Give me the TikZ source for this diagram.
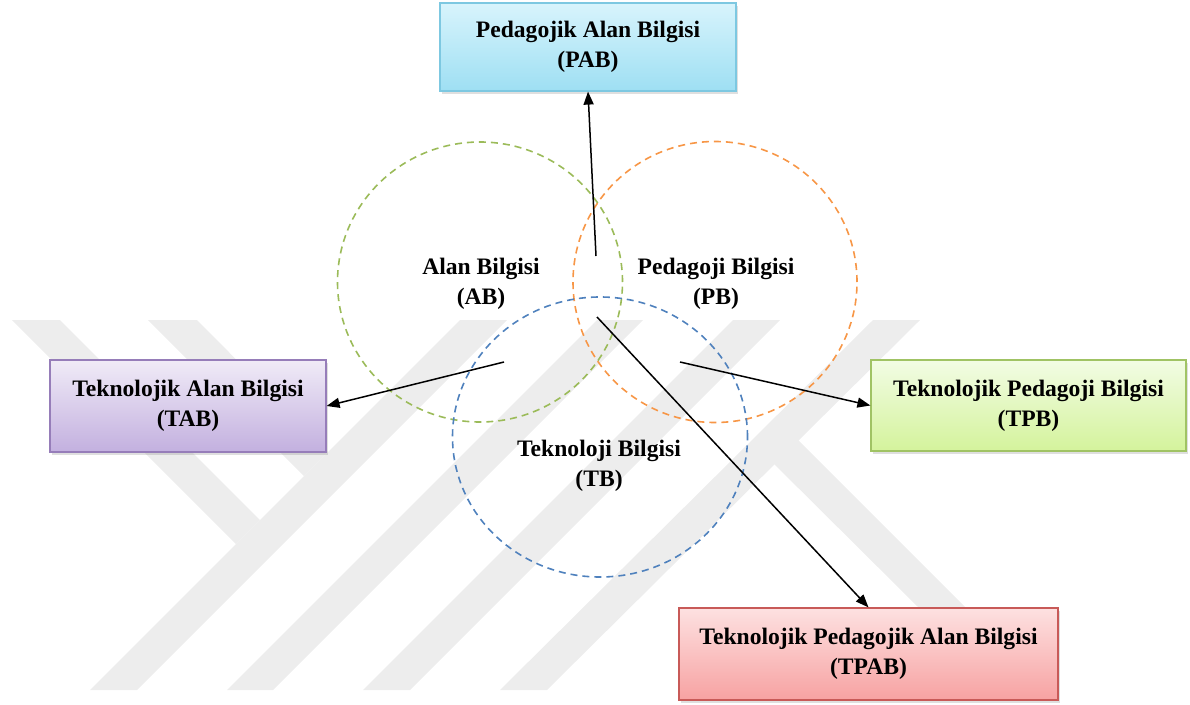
\documentclass[tikz,border=0pt]{standalone}
\usepackage{fontspec}
\setmainfont{Liberation Serif}
\usetikzlibrary{arrows.meta,shadows,shapes.geometric}
\definecolor{wm}{RGB}{237,237,237}
\definecolor{cgreen}{RGB}{155,187,89}
\definecolor{corange}{RGB}{247,150,70}
\definecolor{cblue}{RGB}{79,129,189}
\tikzset{
  lbl/.style={font=\fontsize{23.6}{30}\selectfont\bfseries, align=center, inner sep=0pt},
  box/.style={lbl, draw, line width=1.2pt, drop shadow={shadow xshift=2pt, shadow yshift=-3pt, opacity=0.25}},
  ring/.style={ellipse, draw, dashed, line width=1.6pt, dash pattern=on 7pt off 5pt, inner sep=0pt},
  arr/.style={line width=1.5pt, -{Triangle[length=13pt,width=10pt]}},
  band/.style={fill=wm, draw=none}
}
\begin{document}
\begin{tikzpicture}[x=1pt,y=-1pt]
\useasboundingbox (0,0) rectangle (1190,704);
% watermark
\fill[band] (90,690) -- (137,690) -- (507,320) -- (460,320) -- cycle;
\fill[band] (227,690) -- (273,690) -- (643,320) -- (597,320) -- cycle;
\fill[band] (363,690) -- (410,690) -- (780,320) -- (733,320) -- cycle;
\fill[band] (500,690) -- (547,690) -- (920,320) -- (873,320) -- cycle;
\fill[band] (12,320) -- (60,320) -- (260,520) -- (236,544) -- cycle;
\fill[band] (148,320) -- (197,320) -- (328,452) -- (304,476) -- cycle;
\fill[band] (760,450) -- (784,426) -- (965,607) -- (918,607) -- cycle;
% circles
\node[ring, draw=cgreen, minimum width=285pt, minimum height=280pt] (cab) at (480,282) {};
\node[ring, draw=corange, minimum width=284pt, minimum height=281pt] (cpb) at (715,282) {};
\node[ring, draw=cblue, minimum width=295pt, minimum height=280pt] (ctb) at (600,437) {};
% labels in circles
\node[lbl] (ab) at (481,284) {Alan Bilgisi\\(AB)};
\node[lbl] (pb) at (716,284) {Pedagoji Bilgisi\\(PB)};
\node[lbl] (tb) at (599,466) {Teknoloji Bilgisi\\(TB)};
% boxes
\node[box, draw={rgb,255:red,125;green,200;blue,225}, top color={rgb,255:red,216;green,244;blue,252}, bottom color={rgb,255:red,158;green,223;blue,243},
  minimum width=296pt, minimum height=88pt] (pab) at (588,47) {Pedagojik Alan Bilgisi\\(PAB)};
\node[box, draw={rgb,255:red,150;green,125;blue,185}, top color={rgb,255:red,240;green,235;blue,247}, bottom color={rgb,255:red,195;green,176;blue,223},
  minimum width=276pt, minimum height=92pt] (tab) at (188,406) {Teknolojik Alan Bilgisi\\(TAB)};
\node[box, draw={rgb,255:red,160;green,195;blue,100}, top color={rgb,255:red,242;green,252;blue,228}, bottom color={rgb,255:red,212;green,243;blue,156},
  minimum width=315pt, minimum height=91pt] (tpb) at (1028.5,405.5) {Teknolojik Pedagoji Bilgisi\\(TPB)};
\node[box, draw={rgb,255:red,200;green,90;blue,88}, top color={rgb,255:red,253;green,225;blue,225}, bottom color={rgb,255:red,247;green,162;blue,162},
  minimum width=379pt, minimum height=92pt] (tpab) at (868.5,654) {Teknolojik Pedagojik Alan Bilgisi\\(TPAB)};
% arrow start points
\coordinate (s1) at (596,256);
\coordinate (s2) at (504,362);
\coordinate (s3) at (680,362);
\coordinate (s4) at (597,317);
\draw[arr] (s1) -- (pab.south);
\draw[arr] (s2) -- (tab.east);
\draw[arr] (s3) -- (tpb.west);
\draw[arr] (s4) -- (tpab.north);
\end{tikzpicture}
\end{document}
